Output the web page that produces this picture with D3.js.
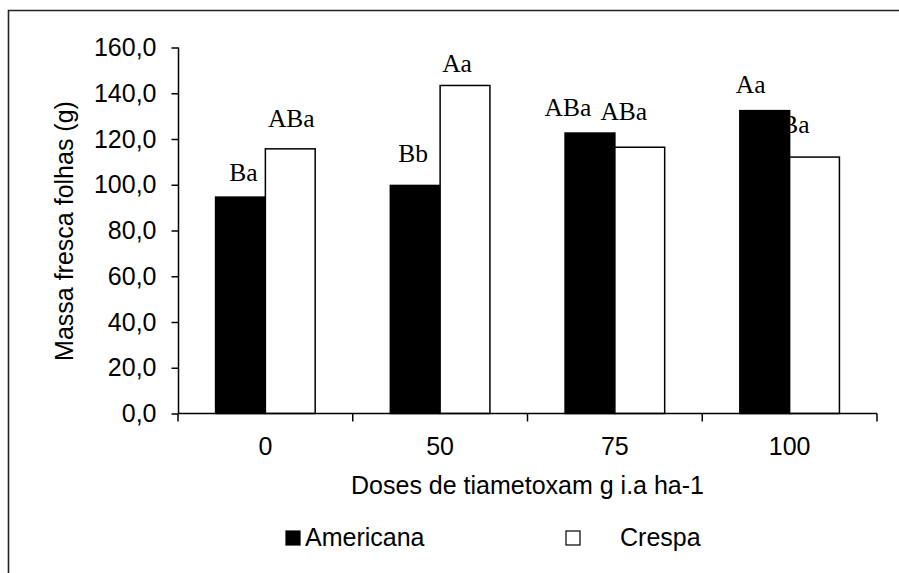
<!DOCTYPE html>
<html>
<head>
<meta charset="utf-8">
<script src="https://cdn.jsdelivr.net/npm/d3@7"></script>
<style>
  body { margin: 0; background: #fff; }
  svg { display: block; }
  .tick text { font-family: "Liberation Sans", Arial, sans-serif; }
</style>
</head>
<body>
<div id="chart"></div>
<script>
// data
const doses = ["0", "50", "75", "100"];
const seriesNames = ["Americana", "Crespa"];
const americana = [94.6, 99.7, 122.6, 132.4];
const crespa = [115.7, 143.4, 116.4, 112.1];
const americanaLetters = ["Ba", "Bb", "ABa", "Aa"];
const crespaLetters = ["ABa", "Aa", "ABa", "Ba"];
const yTicks = [0, 20, 40, 60, 80, 100, 120, 140, 160];

// hand placed letters in the original, offsets from the bar top centre
const americanaNudge = [[3, -16], [-2, -23], [-22, -17], [-14, -18]];
const crespaNudge = [[1, -22], [-8, -13], [-16, -27], [-19, -24]];

const W = 899, H = 573;
const sans = '"Liberation Sans", Arial, sans-serif';
const serif = '"Liberation Serif", "Times New Roman", serif';
const fs = 25;

const svg = d3.select("#chart").append("svg").attr("width", W).attr("height", H);

// outer frame (only top and left edges show in the crop)
svg.append("path")
  .attr("d", "M8.5," + H + "V10.5H" + W)
  .attr("fill", "none").attr("stroke", "#222").attr("stroke-width", 1.6);

const x = d3.scaleBand().domain(doses).range([178, 877])
  .paddingInner(0.43).paddingOuter(0.215);
const xs = d3.scaleBand().domain(seriesNames).range([0, x.bandwidth()]);
const y = d3.scaleLinear().domain([0, 160]).range([413.5, 47.5]);

const fmt = d => d3.format(".1f")(d).replace(".", ",");

// y axis
const yAxis = svg.append("g").attr("transform", "translate(178.5,0)")
  .call(d3.axisLeft(y).tickValues(yTicks).tickFormat(fmt).tickSize(7).tickPadding(15));
yAxis.select(".domain").attr("d", "M0," + y(160) + "V" + y(0)).attr("stroke-width", 1.5);
yAxis.selectAll(".tick line").attr("stroke-width", 1.5);
yAxis.selectAll(".tick text").attr("font-size", fs).attr("fill", "#000");

// letters first: the Americana bar hides part of the last one, as in the original
const rows = doses.map((d, i) => ({ dose: d, values: [
  { s: "Americana", v: americana[i], t: americanaLetters[i], n: americanaNudge[i] },
  { s: "Crespa", v: crespa[i], t: crespaLetters[i], n: crespaNudge[i] }
]}));

const groups = svg.append("g").selectAll("g").data(rows).enter()
  .append("g").attr("transform", d => "translate(" + x(d.dose) + ",0)");

groups.selectAll("text").data(d => d.values).enter()
  .append("text")
  .attr("x", d => xs(d.s) + xs.bandwidth() / 2 + d.n[0])
  .attr("y", d => y(d.v) + d.n[1])
  .attr("text-anchor", "middle")
  .attr("font-family", serif).attr("font-size", 25.5)
  .text(d => d.t);

groups.selectAll("rect").data(d => d.values).enter()
  .append("rect")
  .attr("x", d => xs(d.s))
  .attr("y", d => y(d.v))
  .attr("width", xs.bandwidth())
  .attr("height", d => y(0) - y(d.v))
  .attr("fill", d => d.s === "Americana" ? "#000" : "#fff")
  .attr("stroke", "#000").attr("stroke-width", 1.5);

// x axis with ticks at the category boundaries
const xAxis = svg.append("g").attr("transform", "translate(0,413.5)");
xAxis.append("line").attr("x1", 178).attr("x2", 877).attr("stroke", "#000").attr("stroke-width", 1.5);
const bounds = doses.map(d => x(d) - x.step() * x.paddingInner() / 2).concat([877]);
xAxis.selectAll(".bt").data(bounds).enter().append("line").attr("class", "bt")
  .attr("x1", d => d).attr("x2", d => d).attr("y1", 0).attr("y2", 8)
  .attr("stroke", "#000").attr("stroke-width", 1.5);
xAxis.selectAll(".lab").data(doses).enter().append("text").attr("class", "lab")
  .attr("x", d => x(d) + x.bandwidth() / 2)
  .attr("y", 41.5)
  .attr("text-anchor", "middle")
  .attr("font-family", sans).attr("font-size", fs)
  .text(d => d);

// axis titles
svg.append("text")
  .attr("x", 527.5).attr("y", 494)
  .attr("text-anchor", "middle")
  .attr("font-family", sans).attr("font-size", fs)
  .text("Doses de tiametoxam g i.a ha-1");

svg.append("text")
  .attr("transform", "translate(73,231) rotate(-90)")
  .attr("text-anchor", "middle")
  .attr("font-family", sans).attr("font-size", fs)
  .text("Massa fresca folhas (g)");

// legend
const legendX = [286, 566];
const legend = svg.append("g").selectAll("g").data(seriesNames).enter()
  .append("g").attr("transform", (d, i) => "translate(" + legendX[i] + ",546)");
legend.append("rect")
  .attr("x", 0).attr("y", -15).attr("width", 14).attr("height", 14)
  .attr("fill", (d, i) => i === 0 ? "#000" : "#fff")
  .attr("stroke", "#000").attr("stroke-width", 1.2);
legend.append("text")
  .attr("x", (d, i) => i === 0 ? 19 : 54)
  .attr("y", 0)
  .attr("font-family", sans).attr("font-size", fs)
  .text(d => d);
</script>
</body>
</html>
